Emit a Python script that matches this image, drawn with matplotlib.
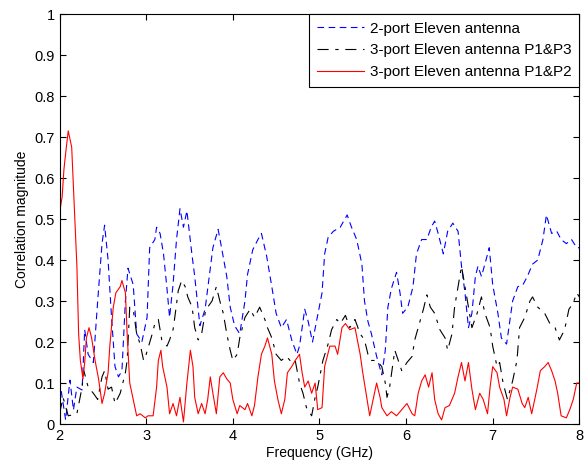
import matplotlib
matplotlib.use("Agg")
import matplotlib.pyplot as plt
import matplotlib.ticker as mticker

plt.rcParams['font.family'] = ['Liberation Sans', 'DejaVu Sans']

# 2-port Eleven antenna
f_blue = [2.0, 2.07, 2.12, 2.16, 2.2, 2.26, 2.29, 2.33, 2.39, 2.44, 2.49, 2.52, 2.56, 2.6, 2.64, 2.68,
          2.72, 2.76, 2.79, 2.85, 2.89, 2.95, 3.01, 3.04, 3.1, 3.12, 3.16, 3.2, 3.24, 3.27, 3.31, 3.35,
          3.39, 3.43, 3.47, 3.53, 3.56, 3.62, 3.68, 3.71, 3.77, 3.83, 3.87, 3.93, 3.97, 4.02, 4.08, 4.14,
          4.17, 4.23, 4.29, 4.33, 4.39, 4.45, 4.5, 4.56, 4.62, 4.68, 4.74, 4.77, 4.83, 4.87, 4.92, 4.97,
          5.03, 5.06, 5.1, 5.16, 5.24, 5.32, 5.37, 5.43, 5.49, 5.52, 5.56, 5.6, 5.66, 5.72, 5.76, 5.79,
          5.83, 5.89, 5.93, 5.96, 6.02, 6.08, 6.12, 6.18, 6.24, 6.29, 6.33, 6.37, 6.43, 6.48, 6.54, 6.6,
          6.64, 6.68, 6.72, 6.76, 6.8, 6.83, 6.87, 6.91, 6.96, 7.0, 7.06, 7.1, 7.16, 7.2, 7.23, 7.29,
          7.35, 7.4, 7.46, 7.52, 7.58, 7.62, 7.68, 7.74, 7.79, 7.85, 7.91, 7.97, 8.0]
v_blue = [0.107, 0.01, 0.107, 0.034, 0.09, 0.083, 0.23, 0.17, 0.15, 0.30, 0.44, 0.485, 0.40, 0.26, 0.14, 0.115,
          0.13, 0.30, 0.38, 0.34, 0.22, 0.20, 0.26, 0.43, 0.45, 0.48, 0.465, 0.415, 0.33, 0.26, 0.34, 0.45,
          0.525, 0.48, 0.52, 0.41, 0.36, 0.24, 0.28, 0.33, 0.43, 0.475, 0.43, 0.36, 0.285, 0.24, 0.22, 0.30,
          0.365, 0.425, 0.45, 0.465, 0.41, 0.335, 0.27, 0.235, 0.255, 0.205, 0.17, 0.19, 0.28, 0.25, 0.20, 0.255,
          0.32, 0.415, 0.455, 0.47, 0.48, 0.51, 0.48, 0.45, 0.39, 0.30, 0.25, 0.22, 0.165, 0.12, 0.18, 0.285,
          0.33, 0.37, 0.32, 0.27, 0.285, 0.335, 0.415, 0.45, 0.45, 0.48, 0.495, 0.465, 0.415, 0.47, 0.49, 0.47,
          0.385, 0.32, 0.235, 0.27, 0.36, 0.385, 0.36, 0.39, 0.43, 0.34, 0.27, 0.21, 0.195, 0.255, 0.30, 0.335,
          0.34, 0.36, 0.39, 0.40, 0.45, 0.51, 0.465, 0.47, 0.45, 0.44, 0.45, 0.43, 0.43]

# 3-port Eleven antenna P1&P3
f_black = [2.0, 2.04, 2.1, 2.2, 2.26, 2.28, 2.33, 2.39, 2.44, 2.49, 2.52, 2.56, 2.6, 2.64, 2.7, 2.76,
           2.78, 2.81, 2.85, 2.89, 2.93, 2.97, 3.0, 3.07, 3.1, 3.14, 3.18, 3.24, 3.27, 3.31, 3.33, 3.37,
           3.41, 3.45, 3.48, 3.53, 3.56, 3.6, 3.64, 3.68, 3.71, 3.76, 3.81, 3.85, 3.89, 3.93, 3.97, 4.0,
           4.05, 4.08, 4.14, 4.2, 4.25, 4.31, 4.37, 4.4, 4.45, 4.5, 4.56, 4.62, 4.68, 4.72, 4.77, 4.81,
           4.85, 4.91, 4.95, 4.98, 5.04, 5.1, 5.14, 5.2, 5.24, 5.3, 5.35, 5.41, 5.47, 5.52, 5.56, 5.6,
           5.66, 5.72, 5.76, 5.78, 5.81, 5.87, 5.91, 5.95, 6.01, 6.07, 6.1, 6.14, 6.2, 6.24, 6.28, 6.33,
           6.39, 6.45, 6.48, 6.53, 6.56, 6.6, 6.64, 6.68, 6.72, 6.76, 6.82, 6.87, 6.91, 6.97, 7.0, 7.05,
           7.08, 7.12, 7.17, 7.23, 7.28, 7.31, 7.37, 7.43, 7.46, 7.52, 7.6, 7.66, 7.72, 7.77, 7.83, 7.88,
           7.93, 7.97, 8.0]
v_black = [0.025, 0.065, 0.02, 0.025, 0.09, 0.13, 0.09, 0.075, 0.06, 0.115, 0.13, 0.085, 0.09, 0.05, 0.075, 0.125,
           0.155, 0.285, 0.28, 0.22, 0.195, 0.155, 0.17, 0.22, 0.245, 0.255, 0.205, 0.19, 0.205, 0.23, 0.26, 0.325,
           0.35, 0.335, 0.31, 0.285, 0.235, 0.205, 0.22, 0.27, 0.285, 0.30, 0.335, 0.30, 0.27, 0.22, 0.18, 0.155,
           0.17, 0.21, 0.26, 0.28, 0.26, 0.285, 0.255, 0.235, 0.21, 0.17, 0.155, 0.165, 0.15, 0.155, 0.10, 0.075,
           0.04, 0.02, 0.065, 0.09, 0.155, 0.195, 0.23, 0.255, 0.245, 0.265, 0.235, 0.255, 0.22, 0.205, 0.17, 0.155,
           0.155, 0.14, 0.10, 0.065, 0.09, 0.18, 0.155, 0.13, 0.15, 0.165, 0.205, 0.235, 0.28, 0.315, 0.285, 0.27,
           0.23, 0.21, 0.18, 0.22, 0.285, 0.335, 0.385, 0.335, 0.285, 0.235, 0.27, 0.31, 0.27, 0.235, 0.19, 0.14,
           0.15, 0.10, 0.06, 0.105, 0.155, 0.235, 0.26, 0.30, 0.31, 0.285, 0.27, 0.245, 0.235, 0.205, 0.23, 0.28,
           0.295, 0.32, 0.31]

# 3-port Eleven antenna P1&P2
f_red = [2.0, 2.03, 2.05, 2.07, 2.1, 2.14, 2.16, 2.2, 2.22, 2.24, 2.27, 2.29, 2.31, 2.34, 2.37, 2.41,
         2.45, 2.49, 2.52, 2.56, 2.58, 2.62, 2.65, 2.7, 2.72, 2.76, 2.78, 2.81, 2.85, 2.89, 2.93, 2.99,
         3.02, 3.08, 3.12, 3.14, 3.17, 3.19, 3.24, 3.27, 3.31, 3.35, 3.39, 3.43, 3.47, 3.51, 3.54, 3.56,
         3.6, 3.64, 3.68, 3.71, 3.74, 3.77, 3.81, 3.85, 3.89, 3.93, 3.97, 4.0, 4.05, 4.08, 4.14, 4.17,
         4.22, 4.25, 4.29, 4.33, 4.37, 4.4, 4.45, 4.48, 4.52, 4.56, 4.6, 4.63, 4.68, 4.72, 4.77, 4.8,
         4.83, 4.87, 4.91, 4.95, 4.98, 5.03, 5.06, 5.12, 5.18, 5.21, 5.26, 5.3, 5.35, 5.41, 5.47, 5.5,
         5.55, 5.58, 5.62, 5.66, 5.7, 5.72, 5.78, 5.83, 5.89, 5.95, 6.01, 6.07, 6.1, 6.14, 6.18, 6.22,
         6.26, 6.3, 6.33, 6.37, 6.41, 6.45, 6.5, 6.56, 6.6, 6.64, 6.68, 6.72, 6.76, 6.8, 6.85, 6.89,
         6.94, 6.97, 7.0, 7.05, 7.08, 7.13, 7.16, 7.2, 7.23, 7.29, 7.34, 7.37, 7.41, 7.45, 7.51, 7.55,
         7.6, 7.64, 7.68, 7.72, 7.75, 7.79, 7.85, 7.89, 7.93, 7.97, 8.0]
v_red = [0.515, 0.555, 0.62, 0.66, 0.715, 0.675, 0.58, 0.385, 0.22, 0.155, 0.11, 0.15, 0.21, 0.235, 0.21, 0.155,
         0.11, 0.05, 0.075, 0.125, 0.19, 0.285, 0.32, 0.335, 0.35, 0.32, 0.22, 0.10, 0.06, 0.02, 0.025, 0.015,
         0.02, 0.02, 0.09, 0.155, 0.18, 0.14, 0.09, 0.025, 0.05, 0.02, 0.065, 0.005, 0.10, 0.18, 0.14, 0.065,
         0.025, 0.05, 0.025, 0.06, 0.115, 0.075, 0.025, 0.115, 0.125, 0.11, 0.10, 0.06, 0.025, 0.045, 0.035, 0.05,
         0.02, 0.045, 0.115, 0.17, 0.19, 0.21, 0.17, 0.105, 0.06, 0.025, 0.06, 0.125, 0.14, 0.155, 0.17, 0.125,
         0.09, 0.105, 0.075, 0.10, 0.035, 0.04, 0.14, 0.19, 0.19, 0.17, 0.235, 0.245, 0.23, 0.235, 0.17, 0.125,
         0.06, 0.02, 0.06, 0.10, 0.065, 0.04, 0.02, 0.03, 0.02, 0.035, 0.05, 0.025, 0.02, 0.075, 0.105, 0.12,
         0.09, 0.125, 0.06, 0.025, 0.01, 0.04, 0.045, 0.075, 0.115, 0.15, 0.105, 0.15, 0.085, 0.035, 0.075, 0.06,
         0.025, 0.09, 0.14, 0.125, 0.09, 0.06, 0.02, 0.065, 0.09, 0.085, 0.05, 0.04, 0.065, 0.025, 0.085, 0.13,
         0.14, 0.15, 0.13, 0.105, 0.075, 0.02, 0.015, 0.035, 0.06, 0.10, 0.10]

fig = plt.figure(figsize=(5.84, 4.68), dpi=100)
ax = fig.add_axes([0.102, 0.094, 0.890, 0.876])

ax.plot(f_blue, v_blue, color='blue', linewidth=0.8, linestyle=(0, (6, 4)), label='2-port Eleven antenna')
ax.plot(f_black, v_black, color='black', linewidth=0.8, linestyle=(0, (10, 6, 3, 6)),
        label='3-port Eleven antenna P1&P3')
ax.plot(f_red, v_red, color='red', linewidth=0.8, linestyle='-', label='3-port Eleven antenna P1&P2')

ax.set_xlim(2, 8)
ax.set_ylim(0, 1)
ax.set_xticks(range(2, 9))
ax.set_yticks([i / 10 for i in range(11)])
ax.yaxis.set_major_formatter(mticker.FuncFormatter(lambda v, p: '%g' % v))
ax.tick_params(direction='in', top=True, right=True, labelsize=10.5, length=4)
for s in ax.spines.values():
    s.set_linewidth(0.8)

ax.set_xlabel('Frequency (GHz)', fontsize=10, labelpad=2)
ax.set_ylabel('Correlation magnitude', fontsize=10)

leg = ax.legend(loc='upper right', fontsize=11, handlelength=3.1, borderaxespad=0, fancybox=False,
                framealpha=1, edgecolor='black', borderpad=0.5, labelspacing=0.5, handletextpad=0.4)
leg.get_frame().set_linewidth(0.8)

plt.savefig('out.png', dpi=100)
